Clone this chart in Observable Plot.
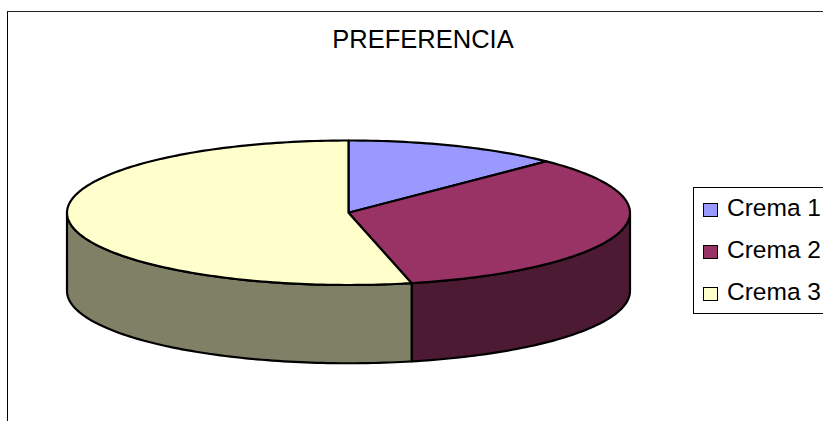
<!DOCTYPE html>
<html><head><meta charset="utf-8">
<script src="https://cdn.jsdelivr.net/npm/d3@7"></script>
<script src="https://cdn.jsdelivr.net/npm/@observablehq/plot@0.6"></script>
<style>
html,body{margin:0;padding:0;background:#fff;overflow:hidden}
#wrap{position:relative;width:823px;height:421px;overflow:hidden;font-family:"Liberation Sans",Arial,sans-serif;color:#000}
#frame{position:absolute;left:7px;top:11px;width:900px;height:500px;border-left:1.5px solid #000;border-top:1.5px solid #222}
#title{position:absolute;left:223px;width:400px;top:25px;text-align:center;font-size:25.5px;line-height:28px}
#legend{position:absolute;left:693px;top:187px;width:200px;height:125px;border:1px solid #000;background:#fff;box-sizing:content-box}
.row{position:absolute;left:9px;font-size:24.5px;line-height:28px;white-space:nowrap}
.sw{position:absolute;left:0;top:9px;width:13px;height:12px;border:1.5px solid #000;box-sizing:content-box}
.lb{position:absolute;left:24px;top:0}
svg{position:absolute;left:0;top:0}
</style></head><body>
<div id="wrap"><div id="frame"></div><div id="title"></div><div id="legend"></div></div>
<script>
const titleText = "PREFERENCIA";
const categories = ["Crema 1", "Crema 2", "Crema 3"];
const shares = [12.4, 34, 53.6];
const topColors = ["#9999ff", "#993366", "#ffffcc"];
const sideColors = ["#4d4d80", "#4d1a33", "#808066"];
const depth = 78 / 72;      // pie thickness, in units of the vertical radius

const total = d3.sum(shares);
const cum = d3.cumsum(shares);
const ang = v => v / total * 2 * Math.PI;
const pt = (a, dz = 0) => ({x: Math.sin(a), y: -Math.cos(a) + dz});
const arc = (a0, a1, dz = 0) => {
  const n = Math.max(2, Math.ceil((a1 - a0) / 0.02));
  return d3.range(n + 1).map(i => pt(a0 + (a1 - a0) * i / n, dz));
};

const lineOpts = {x: "x", y: "y", strokeWidth: 2.2, stroke: "#000", strokeLinejoin: "round", curve: "linear"};

const tops = [], sides = [];
categories.forEach((c, i) => {
  const a0 = ang(i ? cum[i - 1] : 0), a1 = ang(cum[i]);
  const e = arc(a0, a1);
  const hub = {x: 0, y: 0};
  tops.push(Plot.line([hub, ...e, hub], {...lineOpts, fill: topColors[i]}));
  // visible wall: only the front half of the rim (from the right extreme to the left extreme)
  const s0 = Math.max(a0, Math.PI / 2), s1 = Math.min(a1, 3 * Math.PI / 2);
  if (s1 > s0) {
    const upper = arc(s0, s1), lower = arc(s0, s1, depth).reverse();
    sides.push(Plot.line([...upper, ...lower, upper[0]], {...lineOpts, fill: sideColors[i]}));
  }
});

const chart = Plot.plot({
  width: 823, height: 421,
  margin: 0,
  x: {domain: [-1, 1], range: [66.5, 629.5], axis: null},
  y: {domain: [-1, 1], range: [140, 284.5], axis: null},
  marks: [...sides, ...tops]
});
chart.style.background = "transparent";
document.getElementById("wrap").insertBefore(chart, document.getElementById("title"));
document.getElementById("title").textContent = titleText;

const legend = document.getElementById("legend");
categories.forEach((c, i) => {
  const row = document.createElement("div");
  row.className = "row";
  row.style.top = (6 + i * 42) + "px";
  row.innerHTML = `<span class="sw" style="background:${topColors[i]}"></span><span class="lb">${c}</span>`;
  legend.appendChild(row);
});
</script>
</body></html>
